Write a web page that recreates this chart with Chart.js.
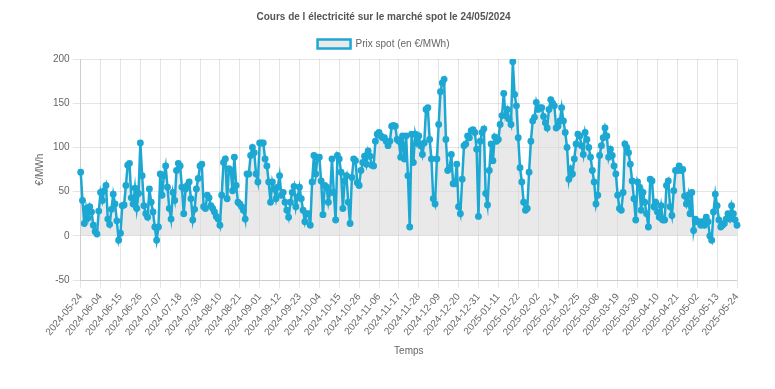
<!DOCTYPE html>
<html>
<head>
<meta charset="utf-8">
<script src="https://cdn.jsdelivr.net/npm/chart.js@4.4.1/dist/chart.umd.min.js"></script>
<style>
  body { margin: 0; background: #fff; }
  #wrap { width: 775px; height: 389px; }
</style>
</head>
<body>
<div id="wrap"><canvas id="myChart"></canvas></div>
<script>
// dates : un point par jour du 24/05/2024 au 24/05/2025 (deux jours absents)
const startDate = '2024-05-24';
const endDate = '2025-05-24';
const missingDays = ['2024-07-24', '2025-02-08'];
const tickEvery = 11;

// prix spot en €/MWh
const prixA = [72, 40, 14, 31, 20, 33, 27, 12, 5, 2, 28, 49, 40, 51, 57, 19, 13, 30, 47, 36, 17, -5, 3, 34, 35, 57, 80, 82, 43, 36];
const prixB = [54, 31, 48, 105, 68, 34, 25, 21, 53, 38, 27, 10, -5, 10, 70, 46, 68, 79, 55, 31, 19, 49, 40, 74, 82, 79, 55, 25, 53, 57, 61, 42, 18, 30, 53, 65, 79, 81];
const prixC = [33, 31, 46, 43, 34, 31, 27, 22, 19, 12, 46, 83, 87, 42, 76, 74, 51, 89, 57, 38, 36, 33, 29, 19, 70, 70, 91, 100, 94, 70, 61, 105, 105, 105, 87, 79, 61, 38];
const prixD = [61, 53, 42, 55, 68, 46, 49, 38, 29, 21, 38, 49, 56, 33, 44, 55, 42, 29, 16, 25, 25, 12, 61, 91, 70, 89, 89, 62, 24, 57, 55, 38, 49, 87, 49, 18, 91];
const prixE = [87, 72, 31, 62, 68, 38, 14, 66, 87, 85, 60, 57, 74, 83, 90, 81, 96, 90, 80, 79, 107, 115, 117, 113, 111, 111, 107, 102, 107, 124, 125, 124, 109, 107, 89, 113, 87, 113];
const prixF = [68, 10, 115, 83, 115, 105, 113, 102, 92, 105, 143, 145, 109, 87, 42, 36, 87, 126, 163, 173, 177, 109, 74, 76, 92, 59, 59, 81, 33, 25, 64, 102, 104, 113, 111, 119, 120];
const prixG = [117, 98, 22, 107, 117, 121, 48, 35, 74, 104, 85, 112, 107, 109, 126, 136, 161, 136, 143, 132, 126, 197, 160, 147, 111, 77, 61, 38, 29, 31, 72, 107, 130, 134, 151, 143, 145];
const prixH = [145, 135, 128, 122, 143, 154, 150, 147, 122, 124, 130, 145, 130, 117, 100, 64, 76, 70, 87, 104, 115, 113, 102, 92, 117, 109, 100, 89, 74, 61, 36, 46, 91, 102, 111, 122, 113, 89];
const prixI = [98, 91, 79, 70, 46, 31, 29, 49, 104, 100, 94, 81, 62, 42, 18, 61, 55, 29, 49, 38, 25, 10, 64, 62, 33, 38, 27, 21, 34, 18, 18, 57, 62, 33, 23, 51, 74, 74];
const prixJ = [79, 74, 75, 45, 36, 46, 25, 49, 6, 19, 16, 16, 12, 16, 12, 21, 16, 0, -5, 27, 47, 34, 18, 10, 12, 14, 19, 25, 19, 34, 25, 18, 12];

const prix = [].concat(prixA, prixB, prixC, prixD, prixE, prixF, prixG, prixH, prixI, prixJ);

const labels = [];
let d = new Date(startDate + 'T00:00:00Z');
const fin = new Date(endDate + 'T00:00:00Z');
while (d <= fin) {
  const s = d.toISOString().slice(0, 10);
  if (!missingDays.includes(s)) labels.push(s);
  d = new Date(d.getTime() + 86400000);
}

Chart.defaults.font.family = "Arial, 'Liberation Sans', sans-serif";
Chart.defaults.font.size = 10;
Chart.defaults.color = '#666';

var ctx = document.getElementById('myChart').getContext('2d');
var myChart = new Chart(ctx, {
  type: 'line',
  data: {
    labels: labels,
    datasets: [{
      label: 'Prix spot (en €/MWh)',
      data: prix,
      borderColor: 'rgb(29, 168, 211)',
      backgroundColor: 'rgba(215, 215, 215, 0.55)',
      pointBackgroundColor: 'rgb(29, 168, 211)',
      pointBorderColor: 'rgb(29, 168, 211)',
      pointRadius: 2.2,
      borderWidth: 2.5,
      tension: 0,
      fill: 'origin'
    }]
  },
  options: {
    responsive: true,
    maintainAspectRatio: false,
    animation: false,
    layout: { padding: { right: 38, left: 30, top: 0, bottom: 28 } },
    plugins: {
      title: {
        display: true,
        text: 'Cours de l électricité sur le marché spot le 24/05/2024',
        color: '#555',
        font: { size: 10, weight: 'bold' },
        padding: { top: 11, bottom: 8 }
      },
      legend: {
        labels: { boxWidth: 33, boxHeight: 9, padding: 8, color: '#666', font: { size: 10 } }
      },
      tooltip: { enabled: false }
    },
    scales: {
      x: {
        title: { display: true, text: 'Temps', color: '#666', font: { size: 10 } },
        grid: { color: 'rgba(0,0,0,0.1)' },
        ticks: {
          autoSkip: false,
          minRotation: 50,
          maxRotation: 50,
          callback: function (val, index) {
            return index % tickEvery === 0 ? this.getLabelForValue(val) : null;
          }
        }
      },
      y: {
        min: -50,
        max: 200,
        title: { display: true, text: '€/MWh', color: '#666', font: { size: 10 } },
        grid: { color: 'rgba(0,0,0,0.1)' },
        ticks: { stepSize: 50 }
      }
    }
  }
});
</script>
</body>
</html>
